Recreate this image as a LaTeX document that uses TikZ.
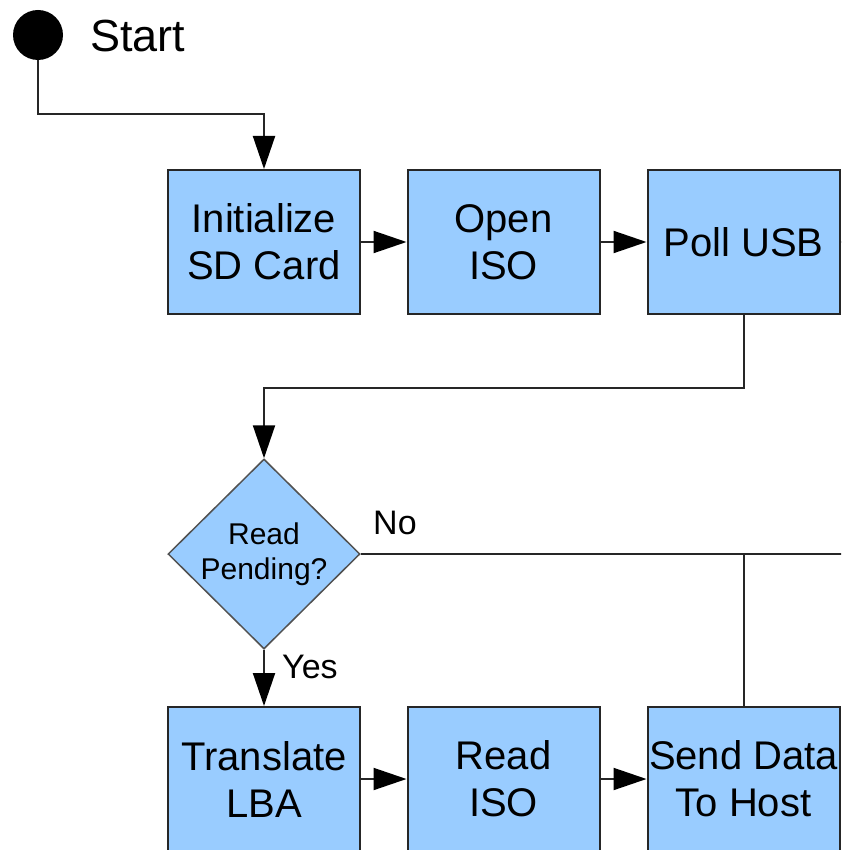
\documentclass[tikz,border=0pt]{standalone}
\usepackage{fontspec}
\setmainfont{Liberation Sans}
\usetikzlibrary{arrows.meta,shapes.geometric,calc}
\definecolor{boxfill}{HTML}{99CCFF}
\definecolor{linecol}{HTML}{262626}
\tikzset{
  procbox/.style={draw=linecol, line width=2pt, fill=boxfill, rectangle,
    minimum width=192pt, minimum height=144pt, inner sep=0pt, align=center,
    font=\fontsize{40}{47}\selectfont, text=black},
  decbox/.style={draw=linecol!80, line width=1.5pt, fill=boxfill, diamond,
    minimum width=192pt, minimum height=190pt, inner sep=0pt},
  conn/.style={draw=linecol, line width=2pt},
  arr/.style={conn, -{Triangle[length=33pt,width=22pt,fill=black,color=black]}},
  lbl/.style={font=\fontsize{34}{40}\selectfont, text=black, inner sep=0pt}
}
\begin{document}
\begin{tikzpicture}[x=1pt,y=-1pt]
\clip (0,0) rectangle (841,850);
\fill[white] (0,0) rectangle (841,850);
% start
\node[circle, fill=black, minimum size=50pt, inner sep=0pt] (st) at (38,35) {};
\node[anchor=base west, inner sep=0pt, font=\fontsize{45}{50}\selectfont] (sttxt) at (90,52) {Start};
% top row
\node[procbox] (b1) at (264,242) {Initialize\\SD Card};
\node[procbox] (b2) at (503.5,242) {Open\\ISO};
\node[procbox] (b3) at (743.5,242) {Poll USB};
% decision
\node[decbox] (d) at (264,554) {};
\node[align=center, inner sep=0pt, font=\fontsize{30}{35}\selectfont, text=black] (dtxt) at (264,554) {Read\\Pending?};
% bottom row
\node[procbox] (b4) at (264,779) {Translate\\LBA};
\node[procbox] (b5) at (503.5,779) {Read\\ISO};
\node[procbox] (b6) at (743.5,779) {Send Data\\To Host};
% coordinates at picture edge
\coordinate (edgeA) at (845,242);
\coordinate (edgeB) at (845,554);
% connectors
\draw[arr] (st.south) -- ++(0,54) -| (b1.north);
\draw[arr] (b1.east) -- (b2.west);
\draw[arr] (b2.east) -- (b3.west);
\draw[conn] (b3.east) -- (edgeA);
\draw[arr] (b3.south) -- ++(0,73) -| (d.north);
\draw[conn] (d.east) -- (edgeB);
\draw[conn] (b6.north) -- (b6.north |- d.east);
\draw[arr] (d.south) -- (b4.north);
\draw[arr] (b4.east) -- (b5.west);
\draw[arr] (b5.east) -- (b6.west);
% labels
\node[lbl, anchor=base west] (no) at (373,534) {No};
\node[lbl, anchor=base west] (yes) at (282,678) {Yes};
\end{tikzpicture}
\end{document}
